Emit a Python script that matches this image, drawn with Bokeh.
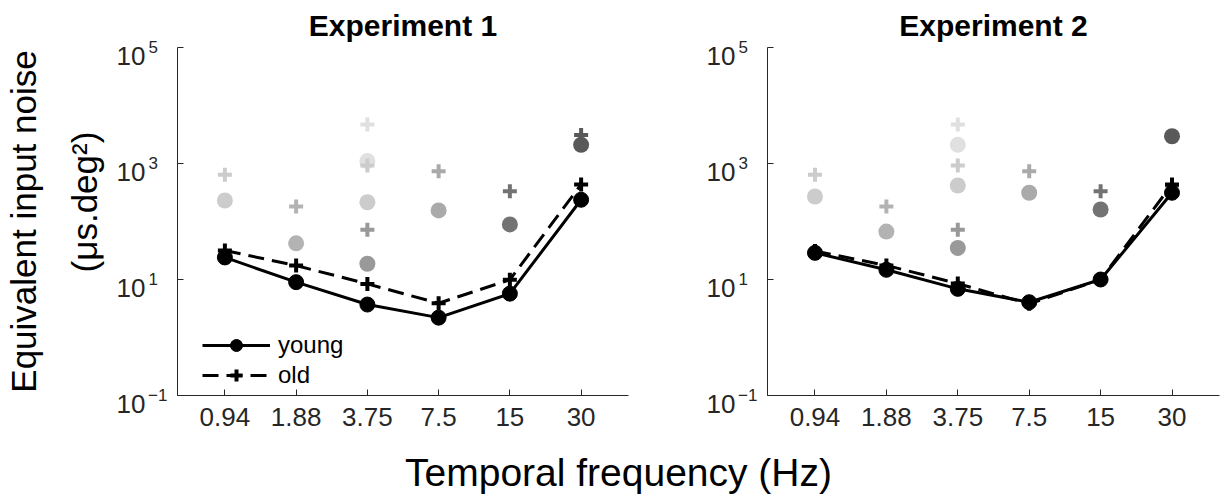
from bokeh.plotting import figure
from bokeh.layouts import row, column
from bokeh.models import FactorRange, Range1d, FixedTicker, Label, Legend, LegendItem, LogAxis
from bokeh.embed import file_html
from bokeh.resources import INLINE

# ---------------- data ----------------
freq_labels = ["0.94", "1.88", "3.75", "7.5", "15", "30"]
y_ticks = [0.1, 10, 1000, 100000]
y_tick_base = "10"
y_tick_exponents = ["\u22121", "1", "3", "5"]

exp1_young = [24, 9.0, 3.7, 2.2, 5.7, 237]
exp1_old = [31.6, 17.4, 8.4, 3.9, 9.9, 435]
exp2_young = [28.8, 14.7, 6.9, 4.06, 10, 313]
exp2_old = [31, 17.5, 8.5, 3.8, 10, 435]

grey_freq = ["0.94", "1.88", "3.75", "3.75", "3.75", "7.5", "15", "30"]
exp1_grey_young = [230, 42, 1100, 215, 18.7, 155, 89, 2100]
exp1_grey_old = [638, 181, 4700, 925, 72, 736, 333, 3100]
exp2_grey_young = [270, 67, 2100, 418, 35, 313, 161, 2950]
exp2_grey_old = [638, 181, 4700, 925, 72, 736, 333, 420]

y_label_1 = "Equivalent input noise"
y_label_2 = "(\u03bcs.deg\u00b2)"
x_label = "Temporal frequency (Hz)"

# ---------------- style ----------------
grey_colors = ["#cccccc", "#b3b3b3", "#e0e0e0", "#cccccc", "#999999", "#aaaaaa", "#737373", "#595959"]
FONT = "Liberation Sans"
AX = "#262626"
ROW_H = 440


def pad_exp(e):
    # pad single-digit exponents so that all exponents start at the same x
    return e if len(e) > 1 else e + "\u2007"


def plain_axis(ticks, overrides, standoff, size):
    return LogAxis(ticker=FixedTicker(ticks=ticks, minor_ticks=[]),
                   major_label_overrides=overrides,
                   axis_line_color=None, major_tick_line_color=None, minor_tick_line_color=None,
                   major_tick_in=0, major_tick_out=0, minor_tick_in=0, minor_tick_out=0,
                   major_label_standoff=standoff, major_label_text_font=FONT,
                   major_label_text_font_size=size, major_label_text_color=AX,
                   axis_label_text_font=FONT, axis_label_text_font_style="normal",
                   axis_label_text_font_size="35px", axis_label_text_color="black")


def make_panel(title, young, old, g_young, g_old, width, bl, br, with_legend, with_ylabel):
    p = figure(width=width, height=ROW_H,
               x_range=FactorRange(*freq_labels, range_padding=0.165, range_padding_units="absolute"),
               y_range=Range1d(0.1, 1e5), y_axis_type="log",
               output_backend="svg", toolbar_location=None,
               min_border_left=bl, min_border_right=br, min_border_top=47, min_border_bottom=45)
    p.title.text = title
    p.title.text_font = FONT
    p.title.text_font_style = "bold"
    p.title.text_font_size = "30px"
    p.title.align = "center"
    p.title.text_color = "black"
    p.title.standoff = 12
    p.grid.visible = False
    p.outline_line_color = None
    p.background_fill_color = "white"

    # inner y axis: axis line, ticks and exponents
    p.yaxis.ticker = FixedTicker(ticks=y_ticks, minor_ticks=[])
    p.yaxis.major_label_overrides = {t: pad_exp(e) for t, e in zip(y_ticks, y_tick_exponents)}
    for ax in (p.xaxis[0], p.yaxis[0]):
        ax.axis_line_color = AX
        ax.axis_line_width = 1
        ax.major_tick_line_color = AX
        ax.major_tick_in = 6
        ax.major_tick_out = 0
        ax.minor_tick_in = 0
        ax.minor_tick_out = 0
        ax.major_label_text_font = FONT
        ax.major_label_text_color = AX
    p.xaxis.major_label_text_font_size = "26px"
    p.xaxis.major_label_standoff = 12
    p.yaxis.major_label_text_font_size = "17px"
    p.yaxis.major_label_standoff = 10

    # outer y axis: the base "10" of each tick label
    outer = plain_axis(y_ticks, {t: "\n" + y_tick_base for t in y_ticks}, 0, "26px")
    outer.major_label_text_line_height = 0.55
    p.add_layout(outer, "left")

    if with_ylabel:
        outer.axis_label = "\u2007\u2007" + y_label_2
        outer.axis_label_standoff = 10
        ax3 = plain_axis([], {}, 0, "1px")
        ax3.axis_label = y_label_1
        ax3.axis_label_standoff = 19
        p.add_layout(ax3, "left")

    # grey reference points
    p.scatter(grey_freq, g_young, marker="circle", size=16, fill_color=grey_colors, line_color=None)
    p.scatter(grey_freq, g_old, marker="cross", size=14, line_color=grey_colors, line_width=4)

    # black series
    ol = p.line(freq_labels, old, line_color="black", line_width=3, line_dash="16 8")
    osc = p.scatter(freq_labels, old, marker="cross", size=14, line_color="black", line_width=4)
    yl = p.line(freq_labels, young, line_color="black", line_width=3)
    ysc = p.scatter(freq_labels, young, marker="circle", size=15, fill_color="black", line_color="black")

    if with_legend:
        legend = Legend(items=[LegendItem(label="young", renderers=[yl, ysc]),
                               LegendItem(label="old", renderers=[ol, osc])],
                        location=(25, 5), glyph_width=68, glyph_height=30, label_height=30,
                        label_standoff=8, label_text_font=FONT, label_text_font_size="24px",
                        label_text_color="black", padding=0, margin=0, spacing=0,
                        border_line_alpha=0, background_fill_alpha=0)
        p.add_layout(legend)
    return p


p1 = make_panel("Experiment 1", exp1_young, exp1_old, exp1_grey_young, exp1_grey_old, 700, 175, 72, True, True)
p2 = make_panel("Experiment 2", exp2_young, exp2_old, exp2_grey_young, exp2_grey_old, 527, 67, 8, False, False)

# x label strip
p3 = figure(width=1227, height=58, output_backend="svg", toolbar_location=None,
            x_range=Range1d(0, 1), y_range=Range1d(0, 1), min_border=0,
            x_axis_location=None, y_axis_location=None)
p3.grid.visible = False
p3.outline_line_color = None
p3.add_layout(Label(x=618, y=26, x_units="screen", y_units="screen",
                    text=x_label, text_font=FONT, text_font_size="39px",
                    text_align="center", text_baseline="middle", text_color="black"))

layout = column(row(p1, p2), p3)
open("out.html", "w").write(file_html(layout, INLINE))
